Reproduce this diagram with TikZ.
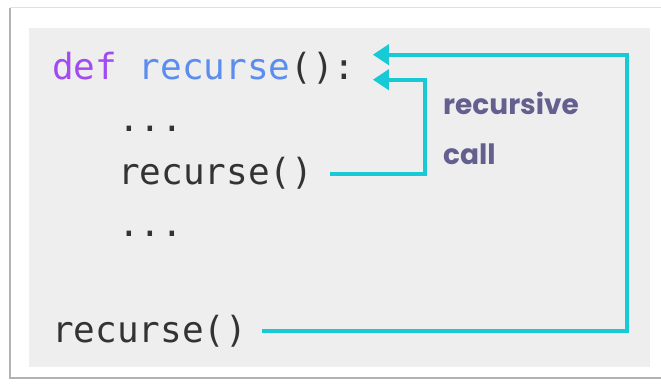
\documentclass[tikz,border=0pt]{standalone}
\usepackage{fontspec}
\setmonofont{DejaVu Sans Mono}
\newfontfamily\labelfont{Poppins}
\usetikzlibrary{arrows.meta}
\definecolor{callcyan}{HTML}{18C9D6}
\definecolor{kwpurple}{HTML}{A24BF2}
\definecolor{fnblue}{HTML}{5B8DEF}
\definecolor{codegray}{HTML}{333333}
\definecolor{labelgray}{HTML}{63608F}
\definecolor{panelgray}{HTML}{EEEEEE}
\tikzset{
  code/.style={anchor=base west, inner sep=0pt, font=\ttfamily\fontsize{36}{36}\selectfont, text=codegray},
  callarrow/.style={draw=callcyan, line width=4pt, -{Triangle[width=20pt,length=16pt]}},
  calllabel/.style={anchor=base west, inner sep=0pt, text=labelgray, font=\labelfont\bfseries\fontsize{28}{34}\selectfont}
}
\begin{document}
\begin{tikzpicture}[x=1pt, y=1pt]
\useasboundingbox (0,0) rectangle (661,383);
% card and code panel
\fill[white] (10,5) rectangle (670,375);
\draw[black!30, line width=1.2pt] (10,375) -- (10,5) -- (670,5);
\draw[black!12, line width=1pt] (10,375) -- (670,375);
\fill[panelgray] (29,16) rectangle (650,355);
% code lines
\node[code] (defline) at (52,303) {\textcolor{kwpurple}{def} \textcolor{fnblue}{recurse}():};
\node[code] (dots1) at (118,251) {...};
\node[code] (innercall) at (118,198) {recurse()};
\node[code] (dots2) at (118,146) {...};
\node[code] (outercall) at (52,41) {recurse()};
\coordinate (outertip) at ([shift={(17,14)}]defline.east);
\coordinate (innertip) at ([shift={(17,-11)}]defline.east);
% calls
\draw[callarrow, shorten <=17pt] (innercall.east) -- ++(112,0) |- (innertip);
\draw[callarrow, shorten <=15pt] (outercall.east) -- ++(380,0) |- (outertip);
\node[calllabel] (recword) at (443,268) {recursive};
\node[calllabel] (callword) at (443,218) {call};
\end{tikzpicture}
\end{document}
